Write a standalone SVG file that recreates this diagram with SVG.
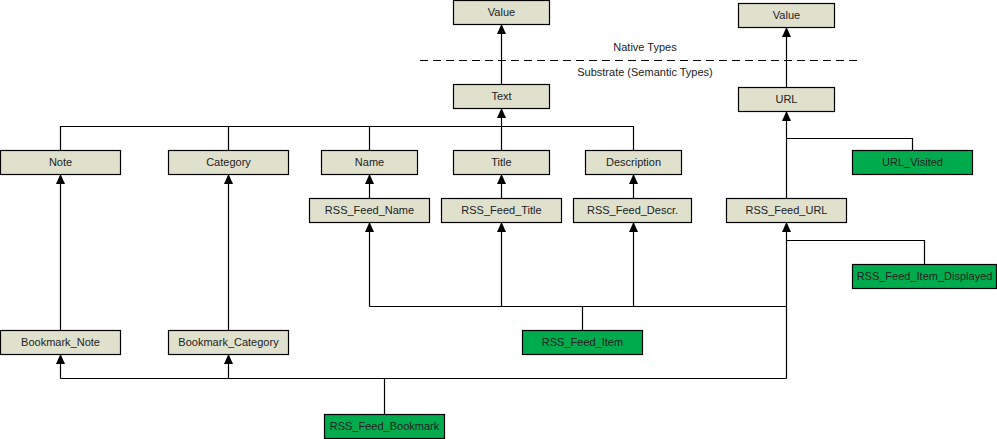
<svg xmlns="http://www.w3.org/2000/svg" width="997" height="439" viewBox="0 0 997 439">
  <style>
    .box { fill: #dfe1cd; stroke: #000; stroke-width: 1.2; }
    .ext { fill: #00ab4e; stroke: #000; stroke-width: 1.2; }
    .lbl { font-family: "Liberation Sans", Arial, sans-serif; font-size: 11px; fill: #222; text-anchor: middle; }
    .wire { fill: none; stroke: #000; stroke-width: 1.2; }
    .arr { fill: none; stroke: #000; stroke-width: 1.2; marker-end: url(#tip); }
    .sep { fill: none; stroke: #000; stroke-width: 1.2; stroke-dasharray: 8 5; }
  </style>
  <defs>
    <marker id="tip" markerUnits="userSpaceOnUse" markerWidth="10" markerHeight="9" refX="10" refY="4.5" orient="auto">
      <path d="M0,0 L10,4.5 L0,9 z" fill="#000"/>
    </marker>
  </defs>
  <rect width="997" height="439" fill="#fff"/>

  <g id="connectors">
    <!-- boundary between native and semantic types -->
    <path class="sep" d="M420,60.5 H862"/>
    <path class="arr" d="M501.5,84 V24"/>
    <path class="arr" d="M786.5,87 V27"/>
    <!-- Text subtypes -->
    <path class="wire" d="M60.5,150 V126.5 H633.5 V150 M228.5,150 V126.5 M369.5,150 V126.5"/>
    <path class="arr" d="M501.5,150 V108"/>
    <!-- RSS feed field types -->
    <path class="arr" d="M369.5,198 V174"/>
    <path class="arr" d="M501.5,198 V174"/>
    <path class="arr" d="M633.5,198 V174"/>
    <path class="arr" d="M786.5,198 V111"/>
    <path class="wire" d="M912.5,150 V138.5 H786.5"/>
    <!-- RSS_Feed_Item attributes -->
    <path class="wire" d="M582.5,330 V306.5 M369.5,306.5 H786.5"/>
    <path class="arr" d="M369.5,306.5 V222"/>
    <path class="arr" d="M501.5,306.5 V222"/>
    <path class="arr" d="M633.5,306.5 V222"/>
    <path class="arr" d="M786.5,378.5 V222"/>
    <path class="wire" d="M924.5,264 V240.5 H786.5"/>
    <!-- Bookmark attributes -->
    <path class="arr" d="M60.5,330 V174"/>
    <path class="arr" d="M228.5,330 V174"/>
    <path class="wire" d="M384.5,414 V378.5 M60.5,378.5 H786.5"/>
    <path class="arr" d="M60.5,378.5 V354"/>
    <path class="arr" d="M228.5,378.5 V354"/>
  </g>

  <text class="lbl" x="645" y="51">Native Types</text>
  <text class="lbl" x="645" y="76">Substrate (Semantic Types)</text>

  <g id="value-native-1"><rect class="box" x="453.5" y="0.5" width="96" height="24"/><text class="lbl" x="501.5" y="16">Value</text></g>
  <g id="value-native-2"><rect class="box" x="738.5" y="3.5" width="96" height="24"/><text class="lbl" x="786.5" y="19">Value</text></g>
  <g id="text"><rect class="box" x="453.5" y="84.5" width="96" height="24"/><text class="lbl" x="501.5" y="100">Text</text></g>
  <g id="url"><rect class="box" x="738.5" y="87.5" width="96" height="24"/><text class="lbl" x="786.5" y="103">URL</text></g>

  <g id="note"><rect class="box" x="0.5" y="150.5" width="120" height="24"/><text class="lbl" x="60.5" y="166">Note</text></g>
  <g id="category"><rect class="box" x="168.5" y="150.5" width="120" height="24"/><text class="lbl" x="228.5" y="166">Category</text></g>
  <g id="name"><rect class="box" x="321.5" y="150.5" width="96" height="24"/><text class="lbl" x="369.5" y="166">Name</text></g>
  <g id="title"><rect class="box" x="453.5" y="150.5" width="96" height="24"/><text class="lbl" x="501.5" y="166">Title</text></g>
  <g id="description"><rect class="box" x="585.5" y="150.5" width="96" height="24"/><text class="lbl" x="633.5" y="166">Description</text></g>
  <g id="url-visited"><rect class="ext" x="852.5" y="150.5" width="120" height="24"/><text class="lbl" x="912.5" y="166">URL_Visited</text></g>

  <g id="rss-feed-name"><rect class="box" x="309.5" y="198.5" width="120" height="24"/><text class="lbl" x="369.5" y="214">RSS_Feed_Name</text></g>
  <g id="rss-feed-title"><rect class="box" x="441.5" y="198.5" width="120" height="24"/><text class="lbl" x="501.5" y="214">RSS_Feed_Title</text></g>
  <g id="rss-feed-descr"><rect class="box" x="573.5" y="198.5" width="118" height="24"/><text class="lbl" x="632.5" y="214">RSS_Feed_Descr.</text></g>
  <g id="rss-feed-url"><rect class="box" x="726.5" y="198.5" width="120" height="24"/><text class="lbl" x="786.5" y="214">RSS_Feed_URL</text></g>

  <g id="rss-feed-item-displayed"><rect class="ext" x="852.5" y="264.5" width="144" height="24"/><text class="lbl" x="924.5" y="280">RSS_Feed_Item_Displayed</text></g>

  <g id="bookmark-note"><rect class="box" x="0.5" y="330.5" width="120" height="24"/><text class="lbl" x="60.5" y="346">Bookmark_Note</text></g>
  <g id="bookmark-category"><rect class="box" x="168.5" y="330.5" width="120" height="24"/><text class="lbl" x="228.5" y="346">Bookmark_Category</text></g>
  <g id="rss-feed-item"><rect class="ext" x="522.5" y="330.5" width="120" height="24"/><text class="lbl" x="582.5" y="346">RSS_Feed_Item</text></g>

  <g id="rss-feed-bookmark"><rect class="ext" x="324.5" y="414.5" width="120" height="24"/><text class="lbl" x="384.5" y="430">RSS_Feed_Bookmark</text></g>
</svg>
